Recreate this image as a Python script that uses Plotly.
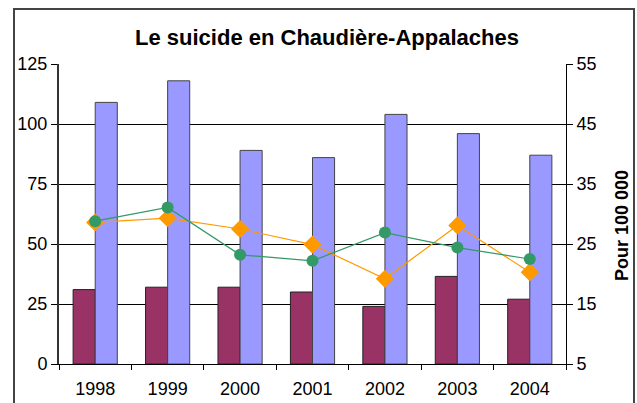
import plotly.graph_objects as go

years = ["1998", "1999", "2000", "2001", "2002", "2003", "2004"]
suicides_a = [31, 32, 32, 30, 24, 36.5, 27]
suicides_b = [109, 118, 89, 86, 104, 96, 87]
taux_a = [28.8, 31.1, 23.2, 22.2, 26.9, 24.4, 22.5]
taux_b = [28.6, 29.3, 27.5, 24.9, 19.2, 28.1, 20.3]
left_ticks = [0, 25, 50, 75, 100, 125]
right_ticks = [5, 15, 25, 35, 45, 55]

W, H = 637, 403
L, R, T, B = 59, 566, 64, 364

fig = go.Figure()
fig.add_trace(go.Bar(x=years, y=suicides_a, marker=dict(color="#993366", line=dict(color="#222222", width=1)),
                     yaxis="y", showlegend=False))
fig.add_trace(go.Bar(x=years, y=suicides_b, marker=dict(color="#9999FF", line=dict(color="#444444", width=1)),
                     yaxis="y", showlegend=False))
fig.add_trace(go.Scatter(x=years, y=taux_b, yaxis="y2", mode="lines+markers",
                         line=dict(color="#FF9900", width=1.2),
                         marker=dict(symbol="diamond", size=14, color="#FF9900"), showlegend=False))
fig.add_trace(go.Scatter(x=years, y=taux_a, yaxis="y2", mode="lines+markers",
                         line=dict(color="#339966", width=1.2),
                         marker=dict(symbol="circle", size=12, color="#339966"), showlegend=False))

font = "Liberation Sans, Arial, sans-serif"
fig.update_layout(
    width=W, height=H,
    margin=dict(l=L, r=W - R, t=T, b=H - B, pad=0, autoexpand=False),
    paper_bgcolor="white", plot_bgcolor="white",
    barmode="group", bargap=0.39, bargroupgap=0,
    font=dict(family=font, size=18, color="black"),
    title=dict(text="<b>Le suicide en Chaudière-Appalaches</b>", x=327 / W, xanchor="center",
               y=1 - 37 / H, yanchor="middle", yref="container",
               font=dict(family=font, size=22, color="black")),
    xaxis=dict(type="category", showgrid=False, showline=True, linecolor="black", linewidth=1,
               ticks="outside", ticklen=5, tickcolor="black", tickson="boundaries",
               ticklabelstandoff=8, tickfont=dict(size=18), zeroline=False, automargin=False),
    yaxis=dict(range=[0, 125], tickvals=left_ticks, showgrid=True, gridcolor="black", gridwidth=1,
               showline=True, linecolor="#333333", linewidth=2, ticks="outside", ticklen=6,
               tickcolor="black", zeroline=False, tickfont=dict(size=18), automargin=False),
    yaxis2=dict(range=[5, 55], tickvals=right_ticks, overlaying="y", side="right", showgrid=False,
                showline=True, linecolor="black", linewidth=1, ticks="outside", ticklen=6,
                tickcolor="black", zeroline=False, tickfont=dict(size=18), automargin=False),
    annotations=[dict(text="<b>Pour 100 000</b>", xref="paper", yref="paper",
                      x=(622 - L) / (R - L), y=(B - 226) / (B - T), xanchor="center", yanchor="middle",
                      textangle=-90, showarrow=False, font=dict(family=font, size=18, color="black"))],
    shapes=[dict(type="rect", xref="paper", yref="paper",
                 x0=(14 - L) / (R - L), x1=(634 - L) / (R - L),
                 y0=(B - 420) / (B - T), y1=(B - 9) / (B - T),
                 line=dict(color="#444444", width=2), fillcolor="rgba(0,0,0,0)", layer="below")],
)

fig.write_html("out.html", config={"displayModeBar": False},
               post_script="document.body.style.margin='0';document.body.style.overflow='hidden';")
